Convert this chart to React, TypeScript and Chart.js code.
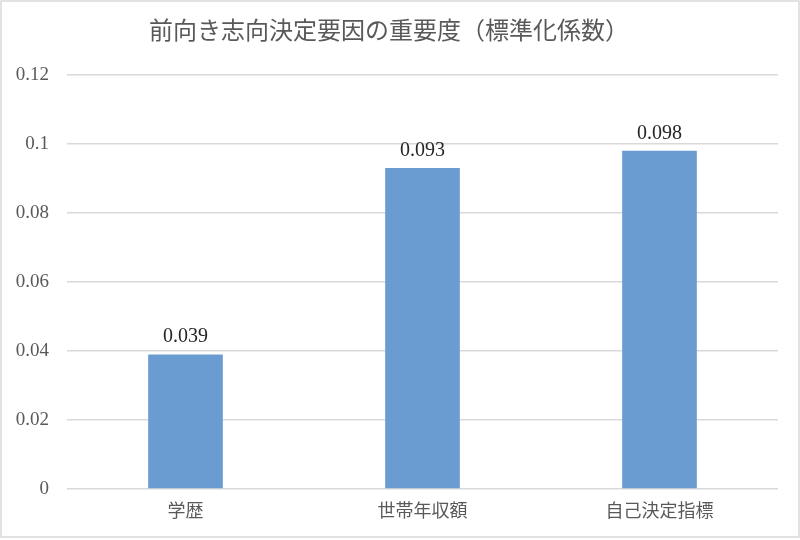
import React, { useEffect, useRef } from "react";
import { Chart, registerables } from "chart.js";

Chart.register(...registerables);

const titleText = "前向き志向決定要因の重要度（標準化係数）";
const categories = ["学歴", "世帯年収額", "自己決定指標"];
const values = [0.039, 0.093, 0.098];
const yMin = 0;
const yMax = 0.12;
const yStep = 0.02;

const FONT = '"Liberation Serif", "Noto Sans CJK JP", serif';

const framePlugin = {
  id: "frame",
  beforeDraw(chart: any) {
    const ctx = chart.ctx;
    ctx.save();
    ctx.fillStyle = "#ffffff";
    ctx.fillRect(0, 0, chart.width, chart.height);
    ctx.strokeStyle = "#d9d9d9";
    ctx.lineWidth = 1.5;
    ctx.strokeRect(1, 1, chart.width - 2, chart.height - 4);
    ctx.restore();
  },
};

const valueLabelPlugin = {
  id: "valueLabels",
  afterDatasetsDraw(chart: any) {
    const ctx = chart.ctx;
    ctx.save();
    ctx.font = `20px ${FONT}`;
    ctx.fillStyle = "#262626";
    ctx.textAlign = "center";
    ctx.textBaseline = "alphabetic";
    chart.data.datasets.forEach((ds: any, di: number) => {
      const meta = chart.getDatasetMeta(di);
      meta.data.forEach((bar: any, i: number) => {
        const v = ds.data[i] as number;
        ctx.fillText(v.toFixed(3), bar.x, bar.y - 12);
      });
    });
    ctx.restore();
  },
};

export default function App() {
  const ref = useRef<HTMLCanvasElement | null>(null);

  useEffect(() => {
    document.body.style.margin = "0";
    if (!ref.current) return;
    const chart = new Chart(ref.current, {
      type: "bar",
      data: {
        labels: categories,
        datasets: [
          {
            data: values,
            backgroundColor: "#6a9bd1",
            borderWidth: 0,
            categoryPercentage: 1,
            barPercentage: 0.315,
          },
        ],
      },
      options: {
        animation: false,
        responsive: false,
        devicePixelRatio: 1,
        layout: { padding: { left: 0, right: 22, top: 0, bottom: 0 } },
        plugins: {
          legend: { display: false },
          tooltip: { enabled: false },
          title: {
            display: true,
            text: titleText,
            color: "#595959",
            font: { family: FONT, size: 24, weight: "normal" },
            padding: { top: 18, bottom: 28 },
          },
        },
        scales: {
          x: {
            grid: { display: false, drawTicks: false },
            border: { display: false },
            ticks: {
              color: "#595959",
              font: { family: FONT, size: 18 },
              padding: 12,
            },
            afterFit(scale: any) {
              scale.height = 51;
            },
          },
          y: {
            min: yMin,
            max: yMax,
            grid: { color: "#d9d9d9", lineWidth: 1.5, drawTicks: false },
            border: { display: false },
            ticks: {
              stepSize: yStep,
              color: "#595959",
              font: { family: FONT, size: 19 },
              padding: 18,
              callback: (v: any) => parseFloat(Number(v).toFixed(2)).toString(),
            },
            afterFit(scale: any) {
              scale.width = 67;
            },
          },
        },
      },
      plugins: [framePlugin, valueLabelPlugin],
    });
    return () => chart.destroy();
  }, []);

  return (
    <div style={{ position: "fixed", left: 0, top: 0, width: 800, height: 540 }}>
      <canvas ref={ref} width={800} height={540} />
    </div>
  );
}
